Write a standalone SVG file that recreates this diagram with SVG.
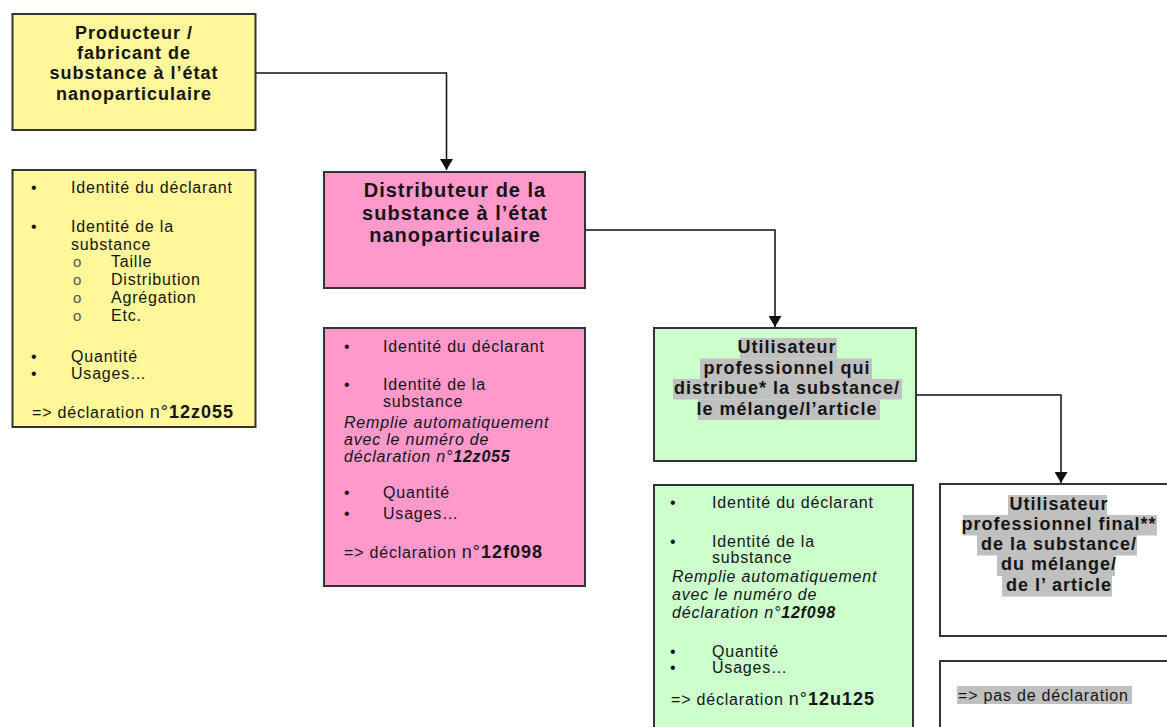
<svg xmlns="http://www.w3.org/2000/svg" width="1167" height="727" viewBox="0 0 1167 727">
<style>
.box{stroke:#333;stroke-width:2}
.y{fill:#FFF799}
.p{fill:#FF99CC}
.g{fill:#CCFFCC}
.w{fill:#FFFFFF}
.hl{fill:#C0C0C0}
.t{font-family:"Liberation Sans",Arial,sans-serif;fill:#151515}
.ti{font-size:18px;font-weight:bold;letter-spacing:1px;text-anchor:middle}
.tp{font-size:20px;font-weight:bold;letter-spacing:1px;text-anchor:middle}
.r{font-size:16px;letter-spacing:0.8px}
.it{font-style:italic}
.b{font-weight:bold}
.big{font-size:18px;letter-spacing:1px}
.sub{font-size:15px;fill:#555}
.conn{fill:none;stroke:#111;stroke-width:1.5;marker-end:url(#arr)}
</style>
<defs>
<marker id="arr" viewBox="0 0 11 13" refX="11" refY="6.5" markerWidth="11" markerHeight="13" markerUnits="userSpaceOnUse" orient="auto">
<path d="M0,0 L11,6.5 L0,13 z" fill="#111"/>
</marker>
</defs>
<rect width="1167" height="727" fill="#fff"/>

<g id="connectors">
<path class="conn" d="M256,73 H446.5 V170"/>
<path class="conn" d="M585,230 H775 V327"/>
<path class="conn" d="M916,395 H1061 V483"/>
</g>

<g id="producteur">
<rect class="box y" x="12.5" y="14" width="243" height="116"/>
<text class="t ti" x="134" y="38.5">Producteur /</text>
<text class="t ti" x="134" y="58.5">fabricant de</text>
<text class="t ti" x="134" y="79">substance à l’état</text>
<text class="t ti" x="134" y="100">nanoparticulaire</text>
</g>

<g id="producteur-liste">
<rect class="box y" x="12.5" y="170" width="243" height="257"/>
<text class="t r" x="31" y="193">•</text>
<text class="t r" x="71" y="193">Identité du déclarant</text>
<text class="t r" x="31" y="232">•</text>
<text class="t r" x="71" y="232">Identité de la</text>
<text class="t r" x="71" y="249.5">substance</text>
<text class="t sub" x="73" y="266.5">o</text>
<text class="t r" x="111" y="266.5">Taille</text>
<text class="t sub" x="73" y="284.5">o</text>
<text class="t r" x="111" y="284.5">Distribution</text>
<text class="t sub" x="73" y="303">o</text>
<text class="t r" x="111" y="303">Agrégation</text>
<text class="t sub" x="73" y="321">o</text>
<text class="t r" x="111" y="321">Etc.</text>
<text class="t r" x="31" y="362">•</text>
<text class="t r" x="71" y="362">Quantité</text>
<text class="t r" x="31" y="378.5">•</text>
<text class="t r" x="71" y="378.5">Usages…</text>
<text class="t r" x="32" y="418">=&gt; déclaration <tspan class="big">n°</tspan><tspan class="big b">12z055</tspan></text>
</g>

<g id="distributeur">
<rect class="box p" x="324" y="172" width="261" height="116"/>
<text class="t tp" x="455" y="197">Distributeur de la</text>
<text class="t tp" x="455" y="219.5">substance à l’état</text>
<text class="t tp" x="455" y="242">nanoparticulaire</text>
</g>

<g id="distributeur-liste">
<rect class="box p" x="324" y="328" width="261" height="258"/>
<text class="t r" x="344" y="352">•</text>
<text class="t r" x="383" y="352">Identité du déclarant</text>
<text class="t r" x="344" y="390">•</text>
<text class="t r" x="383" y="390">Identité de la</text>
<text class="t r" x="383" y="407">substance</text>
<text class="t r it" x="344" y="428">Remplie automatiquement</text>
<text class="t r it" x="344" y="445">avec le numéro de</text>
<text class="t r it" x="344" y="462">déclaration n°<tspan class="b">12z055</tspan></text>
<text class="t r" x="344" y="498">•</text>
<text class="t r" x="383" y="498">Quantité</text>
<text class="t r" x="344" y="519">•</text>
<text class="t r" x="383" y="519">Usages…</text>
<text class="t r" x="344" y="558">=&gt; déclaration <tspan class="big">n°</tspan><tspan class="big b">12f098</tspan></text>
</g>

<g id="utilisateur-distributeur">
<rect class="box g" x="654" y="328" width="262" height="133"/>
<rect class="hl" x="740" y="338" width="97" height="20.5"/>
<rect class="hl" x="700" y="358.5" width="172" height="20.5"/>
<rect class="hl" x="673" y="379" width="229" height="20.5"/>
<rect class="hl" x="698" y="399.5" width="182" height="20.5"/>
<text class="t ti" x="787" y="353">Utilisateur</text>
<text class="t ti" x="787" y="373.5">professionnel qui</text>
<text class="t ti" x="787" y="394">distribue* la substance/</text>
<text class="t ti" x="787" y="414.5">le mélange/l’article</text>
</g>

<g id="utilisateur-distributeur-liste">
<rect class="box g" x="654" y="485" width="259" height="260"/>
<text class="t r" x="670" y="508">•</text>
<text class="t r" x="712" y="508">Identité du déclarant</text>
<text class="t r" x="670" y="546.5">•</text>
<text class="t r" x="712" y="546.5">Identité de la</text>
<text class="t r" x="712" y="563">substance</text>
<text class="t r it" x="672" y="581.5">Remplie automatiquement</text>
<text class="t r it" x="672" y="600">avec le numéro de</text>
<text class="t r it" x="672" y="618">déclaration n°<tspan class="b">12f098</tspan></text>
<text class="t r" x="670" y="656.5">•</text>
<text class="t r" x="712" y="656.5">Quantité</text>
<text class="t r" x="670" y="673">•</text>
<text class="t r" x="712" y="673">Usages…</text>
<text class="t r" x="671" y="705">=&gt; déclaration <tspan class="big">n°</tspan><tspan class="big b">12u125</tspan></text>
</g>

<g id="utilisateur-final">
<rect class="box w" x="940" y="484" width="250" height="152"/>
<rect class="hl" x="1008" y="495" width="99" height="20.5"/>
<rect class="hl" x="963" y="515" width="194" height="20.5"/>
<rect class="hl" x="977" y="535" width="160" height="20.5"/>
<rect class="hl" x="997" y="555" width="118" height="21"/>
<rect class="hl" x="1002" y="576" width="110" height="20.5"/>
<text class="t ti" x="1059" y="510">Utilisateur</text>
<text class="t ti" x="1059" y="530">professionnel final**</text>
<text class="t ti" x="1059" y="550">de la substance/</text>
<text class="t ti" x="1059" y="570">du mélange/</text>
<text class="t ti" x="1059" y="591">de l’ article</text>
</g>

<g id="utilisateur-final-liste">
<rect class="box w" x="940" y="661" width="250" height="90"/>
<rect class="hl" x="957" y="686" width="175" height="18"/>
<text class="t r" x="958" y="700.5">=&gt; pas de déclaration</text>
</g>
</svg>
